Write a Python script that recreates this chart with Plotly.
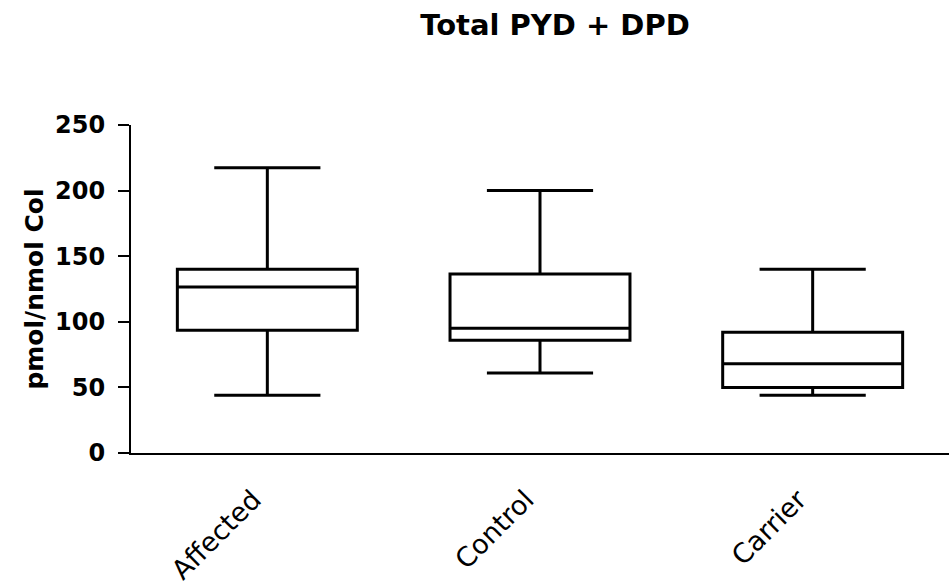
import plotly.graph_objects as go

# Group names and box-plot summary statistics (pmol/nmol collagen)
groups = ["Affected", "Control", "Carrier"]
lower_whisker = [44, 61, 44]
quartile_1 = [93.5, 86, 50]
medians = [126.5, 95, 68]
quartile_3 = [140, 136.5, 92]
upper_whisker = [217.5, 200, 140]

y_ticks = [0, 50, 100, 150, 200, 250]

fig = go.Figure()
fig.add_trace(go.Box(
    x=groups,
    lowerfence=lower_whisker,
    q1=quartile_1,
    median=medians,
    q3=quartile_3,
    upperfence=upper_whisker,
    width=0.66,
    whiskerwidth=0.59,
    fillcolor="white",
    line=dict(color="black", width=3),
    boxpoints=False,
    showlegend=False,
))

bold = dict(family="DejaVu Sans", color="black", weight="bold")

fig.update_layout(
    width=949,
    height=585,
    paper_bgcolor="white",
    plot_bgcolor="white",
    margin=dict(l=131, r=0, t=125, b=132),
    title=dict(
        text="Total PYD + DPD",
        font=dict(size=29, **bold),
        x=555 / 949,
        xanchor="center",
        xref="container",
        y=1 - 25 / 585,
        yanchor="middle",
    ),
    xaxis=dict(
        type="category",
        range=[-0.5, 2.5],
        automargin=False,
        showline=True,
        linecolor="black",
        linewidth=2,
        ticks="",
        showgrid=False,
        tickangle=-45,
        tickfont=dict(family="DejaVu Sans", size=27, color="black"),
        ticklabelstandoff=18,
        ticklabelshift=-14,
    ),
    yaxis=dict(
        range=[0, 250],
        tickvals=y_ticks,
        automargin=False,
        showline=True,
        linecolor="black",
        linewidth=2,
        ticks="outside",
        ticklen=11,
        tickwidth=2,
        tickcolor="black",
        showgrid=False,
        zeroline=False,
        tickfont=dict(size=24, **bold),
        ticklabelstandoff=8,
        title=dict(
            text="pmol/nmol Col",
            font=dict(size=25, **bold),
            standoff=4,
        ),
    ),
)

fig.write_html("out.html")
